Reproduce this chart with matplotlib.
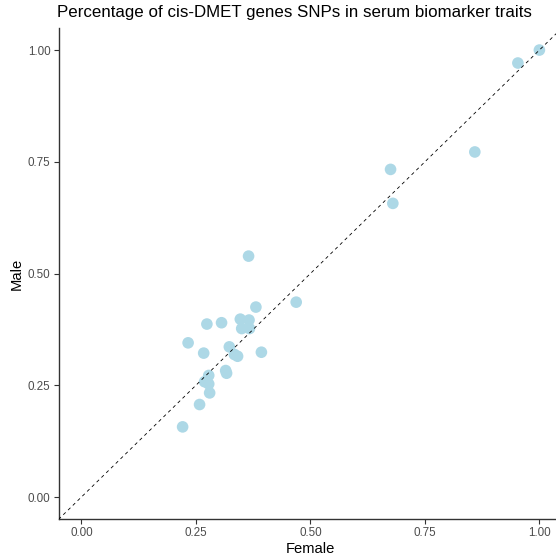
import matplotlib
matplotlib.use("Agg")
import matplotlib.pyplot as plt

female = [0.365, 0.381, 0.469, 0.274, 0.306, 0.347, 0.366, 0.350, 0.367,
          0.233, 0.267, 0.323, 0.334, 0.341, 0.393, 0.315, 0.317, 0.278,
          0.269, 0.278, 0.280, 0.258, 0.221, 0.675, 0.680, 0.859, 0.953, 1.000]
male = [0.539, 0.425, 0.436, 0.387, 0.390, 0.398, 0.396, 0.377, 0.377,
        0.345, 0.322, 0.336, 0.319, 0.315, 0.324, 0.283, 0.277, 0.272,
        0.258, 0.253, 0.233, 0.207, 0.157, 0.733, 0.657, 0.772, 0.971, 1.000]
ticks = [0.00, 0.25, 0.50, 0.75, 1.00]
tick_labels = ["0.00", "0.25", "0.50", "0.75", "1.00"]

plt.rcParams['font.family'] = ['Liberation Sans', 'DejaVu Sans']
fig = plt.figure(figsize=(5.56, 5.58), dpi=100)
ax = fig.add_axes([58.5/556, 38.6/558, 503.8/556, 491.7/558])

ax.scatter(female, male, s=70, color='#ADD8E6', edgecolors='none', zorder=2)
ax.axline((0, 0), slope=1, color='black', linestyle=(0, (4, 4)), linewidth=0.6, zorder=3)

ax.set_xlim(-0.05, 1.05)
ax.set_ylim(-0.05, 1.05)
ax.set_xticks(ticks)
ax.set_xticklabels(tick_labels)
ax.set_yticks(ticks)
ax.set_yticklabels(tick_labels)
for s in ['top', 'right']:
    ax.spines[s].set_visible(False)
for s in ['left', 'bottom']:
    ax.spines[s].set_color('#333333')
    ax.spines[s].set_linewidth(1.0)
ax.tick_params(axis='both', colors='#333333', labelcolor='#4D4D4D', length=3.7,
               width=0.8, labelsize=8.4, pad=2)
ax.set_xlabel('Female', fontsize=10.6, color='black', labelpad=2)
ax.set_ylabel('Male', fontsize=10.6, color='black', labelpad=3)
fig.text(57/556, 1 - 12/558, 'Percentage of cis-DMET genes SNPs in serum biomarker traits',
         fontsize=12.2, color='black', ha='left', va='center')

fig.savefig('out.png', dpi=100)
